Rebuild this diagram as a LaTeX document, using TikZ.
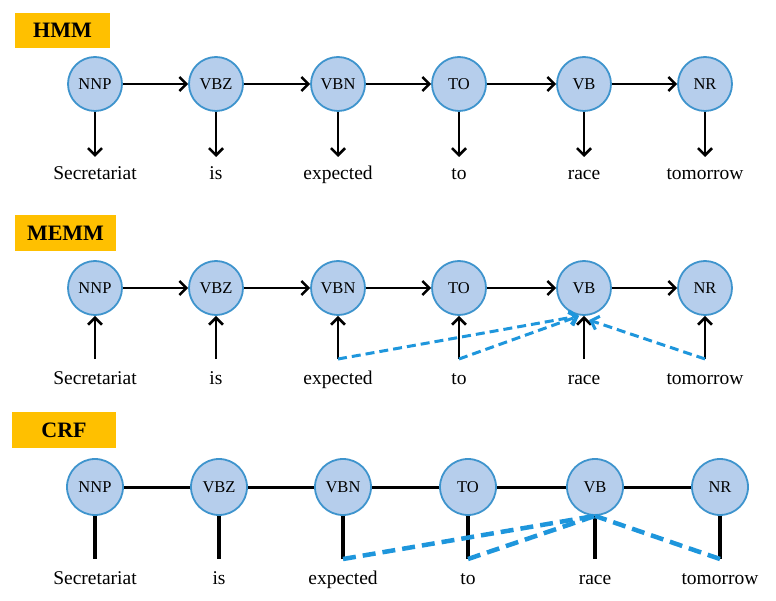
\documentclass[tikz,border=0pt]{standalone}
\usepackage{fontspec}
\setmainfont{Liberation Serif}
\usetikzlibrary{arrows.meta}
\definecolor{nodefill}{RGB}{182,206,236}
\definecolor{nodeline}{RGB}{62,148,205}
\definecolor{dashblue}{RGB}{30,150,220}
\definecolor{labelbg}{RGB}{255,192,0}
\tikzset{
  tag/.style={circle,fill=nodefill,draw=nodeline,line width=1.8pt,minimum size=54pt,inner sep=0pt,font=\fontsize{16.5}{18}\selectfont},
  word/.style={inner sep=0pt,anchor=base,font=\fontsize{19.5}{22}\selectfont},
  title/.style={fill=labelbg,inner sep=0pt,font=\bfseries\fontsize{22}{24}\selectfont},
  harr/.style={line width=2.4pt,-{Straight Barb[length=7pt,width=14pt,line width=2.4pt]}},
  varr/.style={line width=2.6pt,-{Straight Barb[length=7pt,width=14pt,line width=2.6pt]}},
  dasharr/.style={dashblue,line width=3pt,dash pattern=on 9pt off 5pt,-{Straight Barb[length=7pt,width=14pt,line width=3pt]}},
  hline/.style={line width=3pt},
  vline/.style={line width=3.6pt},
  dashline/.style={dashblue,line width=4.5pt,dash pattern=on 13pt off 7pt},
}
\begin{document}
\begin{tikzpicture}[x=1pt,y=-1pt]
\useasboundingbox (0,0) rectangle (776,601);
% ---------- HMM ----------
\node[title,minimum width=95pt,minimum height=35pt] (th) at (62.5,30.5) {HMM};
\foreach \n/\x/\t/\w in {1/95/NNP/Secretariat,2/216/VBZ/is,3/338/VBN/expected,4/459/TO/to,5/584/VB/race,6/705/NR/tomorrow}{
  \node[tag] (h\n) at (\x,84) {\t};
  \node[word] (hw\n) at (\x,180) {\w};
  \coordinate (hb\n) at (\x,157);
  \draw[varr] (h\n.south) -- (hb\n);
}
\foreach \a/\b in {1/2,2/3,3/4,4/5,5/6}{
  \draw[harr] (h\a.east) -- (h\b.west);
}
% ---------- MEMM ----------
\node[title,minimum width=101pt,minimum height=36pt] (tm) at (65.5,233) {MEMM};
\foreach \n/\x/\t/\w in {1/95/NNP/Secretariat,2/216/VBZ/is,3/338/VBN/expected,4/459/TO/to,5/584/VB/race,6/705/NR/tomorrow}{
  \node[tag] (m\n) at (\x,288) {\t};
  \node[word] (mw\n) at (\x,384) {\w};
  \coordinate (mb\n) at (\x,359);
  \draw[varr] (mb\n) -- (m\n.south);
}
\foreach \a/\b in {1/2,2/3,3/4,4/5,5/6}{
  \draw[harr] (m\a.east) -- (m\b.west);
}
\coordinate (mt1) at (579,316);
\coordinate (mt2) at (589,320);
\draw[dasharr] (mb3) -- (mt1);
\draw[dasharr] (mb4) -- (mt1);
\draw[dasharr] (mb6) -- (mt2);
% ---------- CRF ----------
\node[title,minimum width=104pt,minimum height=36pt] (tc) at (64,430) {CRF};
\foreach \n/\x/\t/\w in {1/95/NNP/Secretariat,2/219/VBZ/is,3/343/VBN/expected,4/468/TO/to,5/595/VB/race,6/720/NR/tomorrow}{
  \node[tag,minimum size=56pt] (c\n) at (\x,487) {\t};
  \node[word] (cw\n) at (\x,584) {\w};
  \coordinate (cb\n) at (\x,559);
  \draw[vline] (c\n.south) -- (cb\n);
}
\foreach \a/\b in {1/2,2/3,3/4,4/5,5/6}{
  \draw[hline] (c\a.east) -- (c\b.west);
}
\draw[dashline] (cb3) -- (c5.south);
\draw[dashline] (cb4) -- (c5.south);
\draw[dashline] (cb6) -- (c5.south);
\end{tikzpicture}
\end{document}
